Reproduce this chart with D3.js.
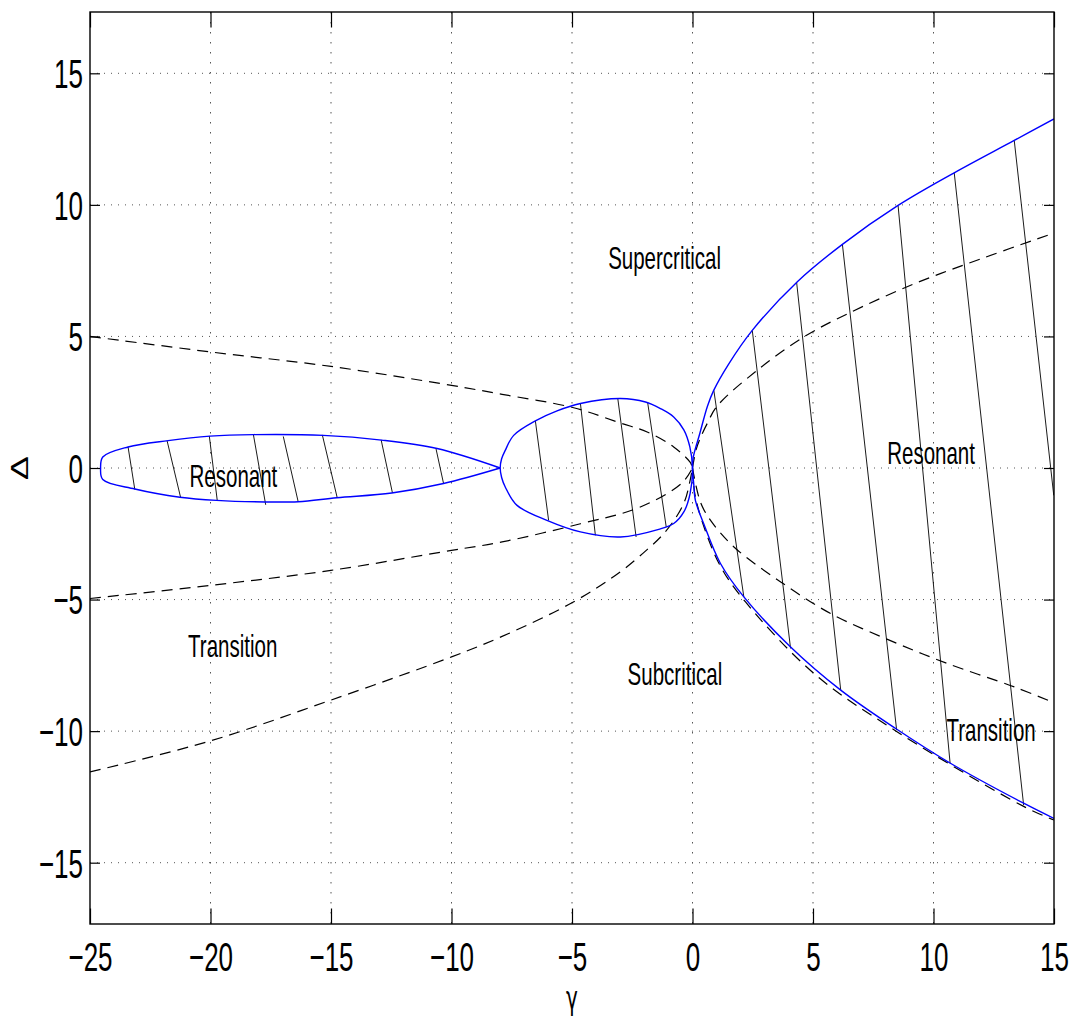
<!DOCTYPE html>
<html>
<head>
<meta charset="utf-8">
<script src="https://cdn.jsdelivr.net/npm/d3@7/dist/d3.min.js"></script>
<style>
  html, body { margin: 0; padding: 0; background: #fff; }
  svg { display: block; }
  text { font-family: "Liberation Sans", Arial, Helvetica, sans-serif; fill: #000; }
</style>
</head>
<body>
<svg id="chart" width="1074" height="1023"></svg>
<script>
// ---- axis ticks ----
const xTicks = [-25, -20, -15, -10, -5, 0, 5, 10, 15];
const yTicks = [-15, -10, -5, 0, 5, 10, 15];

// ---- stability boundaries (gamma, Delta) ----
// left resonant lobe, from the tip at gamma = -8 round the blunt left end and back
const leftLobeUpper = [[-7.98, 0], [-10.6, 0.74], [-12.9, 1.06], [-15.32, 1.24], [-18.22, 1.27],
  [-20.02, 1.21], [-21.76, 1.04], [-23.42, 0.8], [-24.47, 0.42], [-24.56, 0]];
const leftLobeLower = [[-24.56, 0], [-24.47, -0.44], [-23.14, -0.8], [-21.27, -1.11], [-19.75, -1.23],
  [-17.74, -1.29], [-16.36, -1.28], [-14.76, -1.13], [-12.48, -0.95], [-10.33, -0.59], [-7.98, 0]];

// central closed loop between gamma = -8 and the origin
const centralLoop = [[-7.98, 0], [-7.92, 0.35], [-7.77, 0.67], [-7.42, 1.24], [-6.52, 1.79], [-5.62, 2.17],
  [-4.65, 2.45], [-2.99, 2.64], [-1.95, 2.51], [-1.33, 2.26], [-0.78, 1.94], [-0.36, 1.45], [-0.11, 0.8],
  [0, 0], [-0.1, -0.97], [-0.36, -1.67], [-0.78, -2.11], [-1.4, -2.33], [-2.99, -2.62], [-4.65, -2.43],
  [-6.04, -1.99], [-7.28, -1.42], [-7.77, -0.72], [-7.92, -0.36]];

// right resonant boundary, top branch down through the origin to the bottom branch
const rightBoundary = [[15, 13.27], [13.35, 12.45], [10.86, 11.22], [8.53, 9.98], [6.22, 8.5],
  [4.35, 7.08], [2.48, 5.23], [1.5, 3.95], [0.88, 2.95], [0.62, 2.35], [0.3, 1.3], [0.03, 0.4], [0, 0],
  [0.05, -0.59], [0.12, -1.23], [0.47, -2.13], [1.16, -3.63], [2.13, -4.9], [4.07, -6.8],
  [6.15, -8.44], [8.43, -9.9], [10.72, -11.23], [13.76, -12.75], [15, -13.32]];

// ---- dashed transition curves ----
const dashUpperLeft = [[-25, 5.0], [-20, 4.41], [-15, 3.86], [-10, 3.14], [-7.9, 2.8], [-4.93, 2.29],
  [-3, 1.71], [-1.88, 1.37], [-0.78, 0.8], [-0.1, 0.22], [0, 0]];
const dashLowerLeft = [[-25, -4.96], [-20, -4.46], [-15, -3.89], [-10, -3.13], [-7.9, -2.81],
  [-4.65, -2.12], [-2.44, -1.58], [-1.05, -0.97], [-0.36, -0.5], [0, 0]];
const dashBottomLeft = [[-25, -11.55], [-20, -10.37], [-15, -8.82], [-10, -7.18], [-7.9, -6.4],
  [-5, -5.12], [-3, -3.95], [-1.82, -3.05], [-1.26, -2.56], [-0.7, -1.9], [-0.3, -1.2], [0, 0]];
const dashUpperRight = [[0, 0], [0.15, 0.7], [0.33, 1.15], [0.61, 1.69], [1.02, 2.35], [2.68, 3.71],
  [4.62, 4.98], [6.43, 5.86], [9.2, 7.0], [11.97, 7.95], [15, 8.93]];
const dashLowerRight = [[0, 0], [0.33, -1.3], [0.75, -1.99], [1.72, -3.0], [3.66, -4.33], [5.73, -5.53],
  [8.5, -6.67], [10.58, -7.43], [13.35, -8.32], [15, -8.92]];
const dashBottomRight = [[0, 0], [0.1, -1.0], [0.5, -2.3], [1.2, -3.8], [2.2, -5.09], [5.04, -7.81],
  [8.5, -10.03], [13.76, -12.87], [15, -13.38]];

// ---- hatching of the resonant regions: [gamma1, Delta1, gamma2, Delta2] ----
const hatchLeft = [[-23.42, 0.8, -23.14, -0.82], [-21.8, 1.03, -21.24, -1.12], [-20.05, 1.22, -19.72, -1.23],
  [-18.22, 1.27, -17.71, -1.4], [-16.98, 1.2, -16.36, -1.29], [-15.36, 1.26, -14.74, -1.14],
  [-12.92, 1.07, -12.45, -0.95], [-10.64, 0.72, -10.33, -0.59]];
const hatchCentral = [[-6.52, 1.79, -5.97, -1.99], [-4.65, 2.45, -4.03, -2.56],
  [-3.1, 2.64, -2.34, -2.62], [-1.86, 2.48, -1.09, -2.24]];
const hatchRight = [[0.885, 2.95, 2.13, -4.9], [2.48, 5.23, 4.07, -6.86], [4.32, 7.06, 6.15, -8.44],
  [6.22, 8.5, 8.47, -9.96], [8.53, 9.98, 10.69, -11.23], [10.86, 11.22, 13.74, -12.81],
  [13.35, 12.45, 14.99, -1.04]];

// ---- region annotations (gamma, Delta at text baseline centre) ----
const regionLabels = [
  { text: "Supercritical", g: -1.16, d: 7.58 },
  { text: "Resonant", g: -19.05, d: -0.72 },
  { text: "Transition", g: -19.08, d: -7.2 },
  { text: "Resonant", g: 9.9, d: 0.17 },
  { text: "Subcritical", g: -0.73, d: -8.26 },
  { text: "Transition", g: 12.39, d: -10.37 }
];

// ---- layout ----
const svg = d3.select("#chart");
const plotLeft = 90, plotRight = 1054, plotTop = 12, plotBottom = 924;
const x = d3.scaleLinear().domain([-25, 15]).range([plotLeft, plotRight]);
const y = d3.scaleLinear().domain([-17.33, 17.33]).range([plotBottom, plotTop]);
const stretch = 1.56; // tall, narrow lettering

svg.append("rect").attr("width", 1074).attr("height", 1023).attr("fill", "#fff");

svg.append("defs").append("clipPath").attr("id", "plotClip")
  .append("rect").attr("x", plotLeft).attr("y", plotTop)
  .attr("width", plotRight - plotLeft).attr("height", plotBottom - plotTop);

// dotted grid
const grid = svg.append("g").attr("stroke", "#555").attr("stroke-width", 1);
grid.selectAll("line.gx").data(xTicks.filter(t => t > -25 && t < 15)).join("line")
  .attr("class", "gx")
  .attr("x1", d => x(d)).attr("x2", d => x(d)).attr("y1", plotTop).attr("y2", plotBottom)
  .attr("stroke-dasharray", "1.5,8.5");
grid.selectAll("line.gy").data(yTicks).join("line")
  .attr("class", "gy")
  .attr("x1", plotLeft).attr("x2", plotRight).attr("y1", d => y(d)).attr("y2", d => y(d))
  .attr("stroke-dasharray", "1,6");

const plot = svg.append("g").attr("clip-path", "url(#plotClip)");
const line = d3.line().x(d => x(d[0])).y(d => y(d[1])).curve(d3.curveCatmullRom.alpha(0.5));
const closed = d3.line().x(d => x(d[0])).y(d => y(d[1])).curve(d3.curveCatmullRomClosed.alpha(0.5));

// hatching
plot.append("g").attr("stroke", "#000").attr("stroke-width", 0.9)
  .selectAll("line").data(hatchLeft.concat(hatchCentral, hatchRight)).join("line")
  .attr("x1", d => x(d[0])).attr("y1", d => y(d[1]))
  .attr("x2", d => x(d[2])).attr("y2", d => y(d[3]));

// dashed transition curves
plot.append("g").attr("fill", "none").attr("stroke", "#000").attr("stroke-width", 1.2)
  .attr("stroke-dasharray", "11,7")
  .selectAll("path")
  .data([dashUpperLeft, dashLowerLeft, dashBottomLeft, dashUpperRight, dashLowerRight, dashBottomRight])
  .join("path").attr("d", line);

// blue resonance boundaries
const blue = plot.append("g").attr("fill", "none").attr("stroke", "#0000ff").attr("stroke-width", 1.4);
blue.append("path").attr("d", line(leftLobeUpper.concat(leftLobeLower.slice(1))));
blue.append("path").attr("d", closed(centralLoop));
blue.append("path").attr("d", line(rightBoundary));

// axes with inward ticks on all four sides
const fmt = d => (d < 0 ? "\u2212" + Math.abs(d) : String(d));

const gx = svg.append("g").attr("transform", `translate(0,${plotBottom})`)
  .call(d3.axisBottom(x).tickValues(xTicks).tickSizeInner(-15.5).tickSizeOuter(0).tickFormat(fmt));
const gy = svg.append("g").attr("transform", `translate(${plotLeft},0)`)
  .call(d3.axisLeft(y).tickValues(yTicks).tickSizeInner(-10).tickSizeOuter(0).tickFormat(fmt));
const gt = svg.append("g").attr("transform", `translate(0,${plotTop})`)
  .call(d3.axisTop(x).tickValues(xTicks).tickSizeInner(-15.5).tickSizeOuter(0).tickFormat(() => ""));
const gr = svg.append("g").attr("transform", `translate(${plotRight},0)`)
  .call(d3.axisRight(y).tickValues(yTicks).tickSizeInner(-10).tickSizeOuter(0).tickFormat(() => ""));

[gx, gy, gt, gr].forEach(g => {
  g.select(".domain").remove();
  g.attr("font-family", null).attr("font-size", null);
  g.selectAll(".tick line").attr("stroke", "#000").attr("stroke-width", 1.2);
});

gx.selectAll(".tick text")
  .attr("y", 0).attr("dy", null)
  .attr("font-size", 26).attr("fill", "#000")
  .attr("transform", `translate(0,47) scale(1,${stretch})`);
gy.selectAll(".tick text")
  .attr("x", -7).attr("y", 0).attr("dy", null)
  .attr("font-size", 26).attr("fill", "#000")
  .attr("transform", `translate(0,14.4) scale(1,${stretch})`);

// frame
svg.append("rect").attr("x", plotLeft).attr("y", plotTop)
  .attr("width", plotRight - plotLeft).attr("height", plotBottom - plotTop)
  .attr("fill", "none").attr("stroke", "#000").attr("stroke-width", 1.4);

// region annotations
svg.append("g").selectAll("text").data(regionLabels).join("text")
  .attr("text-anchor", "middle").attr("font-size", 20.5)
  .attr("transform", d => `translate(${x(d.g)},${y(d.d)}) scale(1,${stretch})`)
  .text(d => d.text);

// axis titles
svg.append("text").attr("text-anchor", "middle").attr("font-size", 20)
  .style("font-family", "'DejaVu Sans', sans-serif")
  .attr("transform", `translate(${(plotLeft + plotRight) / 2},1009) scale(1,${stretch})`)
  .text("\u03b3");
svg.append("text").attr("text-anchor", "middle").attr("font-size", 23)
  .attr("transform", `translate(28,${(plotTop + plotBottom) / 2}) scale(1,${stretch}) rotate(-90)`)
  .text("\u0394");
</script>
</body>
</html>
